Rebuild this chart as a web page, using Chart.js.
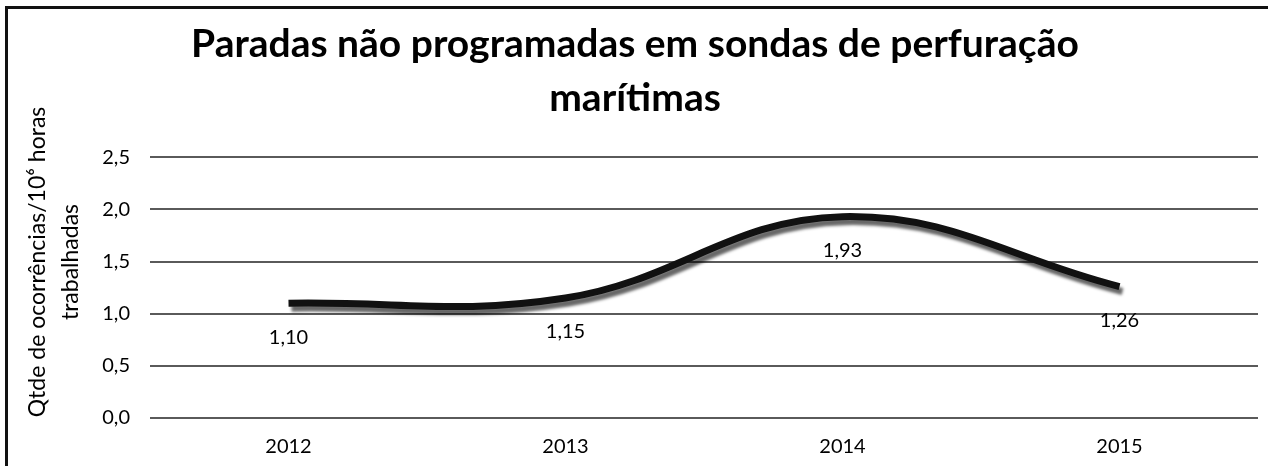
<!DOCTYPE html>
<html>
<head>
<meta charset="utf-8">
<script src="https://cdn.jsdelivr.net/npm/chart.js@4"></script>
<style>
  html, body { margin: 0; padding: 0; background: #fff; }
  #frame {
    position: absolute; left: 5px; top: 6px;
    width: 1263px; height: 460px;
    border-left: 3px solid #111; border-top: 3px solid #111;
  }
  #chart { display: block; }
</style>
</head>
<body>
<div id="frame"><canvas id="chart" width="1260" height="457"></canvas></div>
<script>
// chart data
const years = ['2012', '2013', '2014', '2015'];
const occurrences = [1.10, 1.15, 1.93, 1.26];
const titleLines = ['Paradas não programadas em sondas de perfuração', 'marítimas'];
const yTitleLines = ['Qtde de ocorrências/10⁶ horas', 'trabalhadas'];

const FONT = 'Lato, "Open Sans", sans-serif';
const fmt = v => v.toFixed(2).replace('.', ',');

// grey drop shadow under the line, like the Excel effect
const shadowPlugin = {
    id: 'lineShadow',
    beforeDatasetDraw(chart) {
        const ctx = chart.ctx;
        ctx.save();
        ctx.shadowColor = 'rgba(0,0,0,0.6)';
        ctx.shadowOffsetX = 3;
        ctx.shadowOffsetY = 5;
        ctx.shadowBlur = 3;
    },
    afterDatasetDraw(chart) {
        chart.ctx.restore();
    }
};

// value labels under each point
const labelPlugin = {
    id: 'valueLabels',
    afterDatasetsDraw(chart) {
        const ctx = chart.ctx;
        const meta = chart.getDatasetMeta(0);
        ctx.save();
        ctx.font = '20px ' + FONT;
        ctx.fillStyle = '#000';
        ctx.textAlign = 'center';
        ctx.textBaseline = 'middle';
        meta.data.forEach((pt, i) => {
            ctx.fillText(fmt(occurrences[i]), pt.x, pt.y + 34);
        });
        ctx.restore();
    }
};

// y axis title, drawn by hand so it can sit a bit above the plot centre like Excel does
const yTitlePlugin = {
    id: 'yTitle',
    afterDraw(chart) {
        const ctx = chart.ctx;
        ctx.save();
        ctx.translate(0, 253);
        ctx.rotate(-Math.PI / 2);
        ctx.font = '23px ' + FONT;
        ctx.fillStyle = '#000';
        ctx.textAlign = 'center';
        ctx.textBaseline = 'alphabetic';
        ctx.fillText(yTitleLines[0], 0, 37);
        ctx.fillText(yTitleLines[1], 0, 70);
        ctx.restore();
    }
};

new Chart(document.getElementById('chart'), {
    type: 'line',
    data: {
        labels: years,
        datasets: [{
            data: occurrences,
            borderColor: '#111',
            borderWidth: 7,
            tension: 0.4,
            pointRadius: 0,
            fill: false
        }]
    },
    options: {
        responsive: false,
        animation: false,
        layout: { padding: { left: 4, right: 10, top: 4, bottom: 7 } },
        plugins: {
            legend: { display: false },
            tooltip: { enabled: false },
            title: {
                display: true,
                text: titleLines,
                color: '#000',
                font: { family: FONT, size: 39, weight: 'bold', lineHeight: 1.4 },
                padding: { top: 4, bottom: 31 }
            }
        },
        scales: {
            x: {
                offset: true,
                afterFit: s => { s.height = 41; },
                grid: { display: false, drawTicks: false },
                border: { display: false },
                ticks: { color: '#000', font: { family: FONT, size: 20 }, padding: 17, maxRotation: 0 }
            },
            y: {
                min: 0,
                max: 2.5,
                afterFit: s => { s.width = 138; },
                ticks: {
                    stepSize: 0.5,
                    color: '#000',
                    padding: 20,
                    font: { family: FONT, size: 20 },
                    callback: v => v.toFixed(1).replace('.', ',')
                },
                grid: { color: '#5a5a5a', lineWidth: 2, drawTicks: false },
                border: { display: false }
            }
        }
    },
    plugins: [shadowPlugin, labelPlugin, yTitlePlugin]
});
</script>
</body>
</html>
